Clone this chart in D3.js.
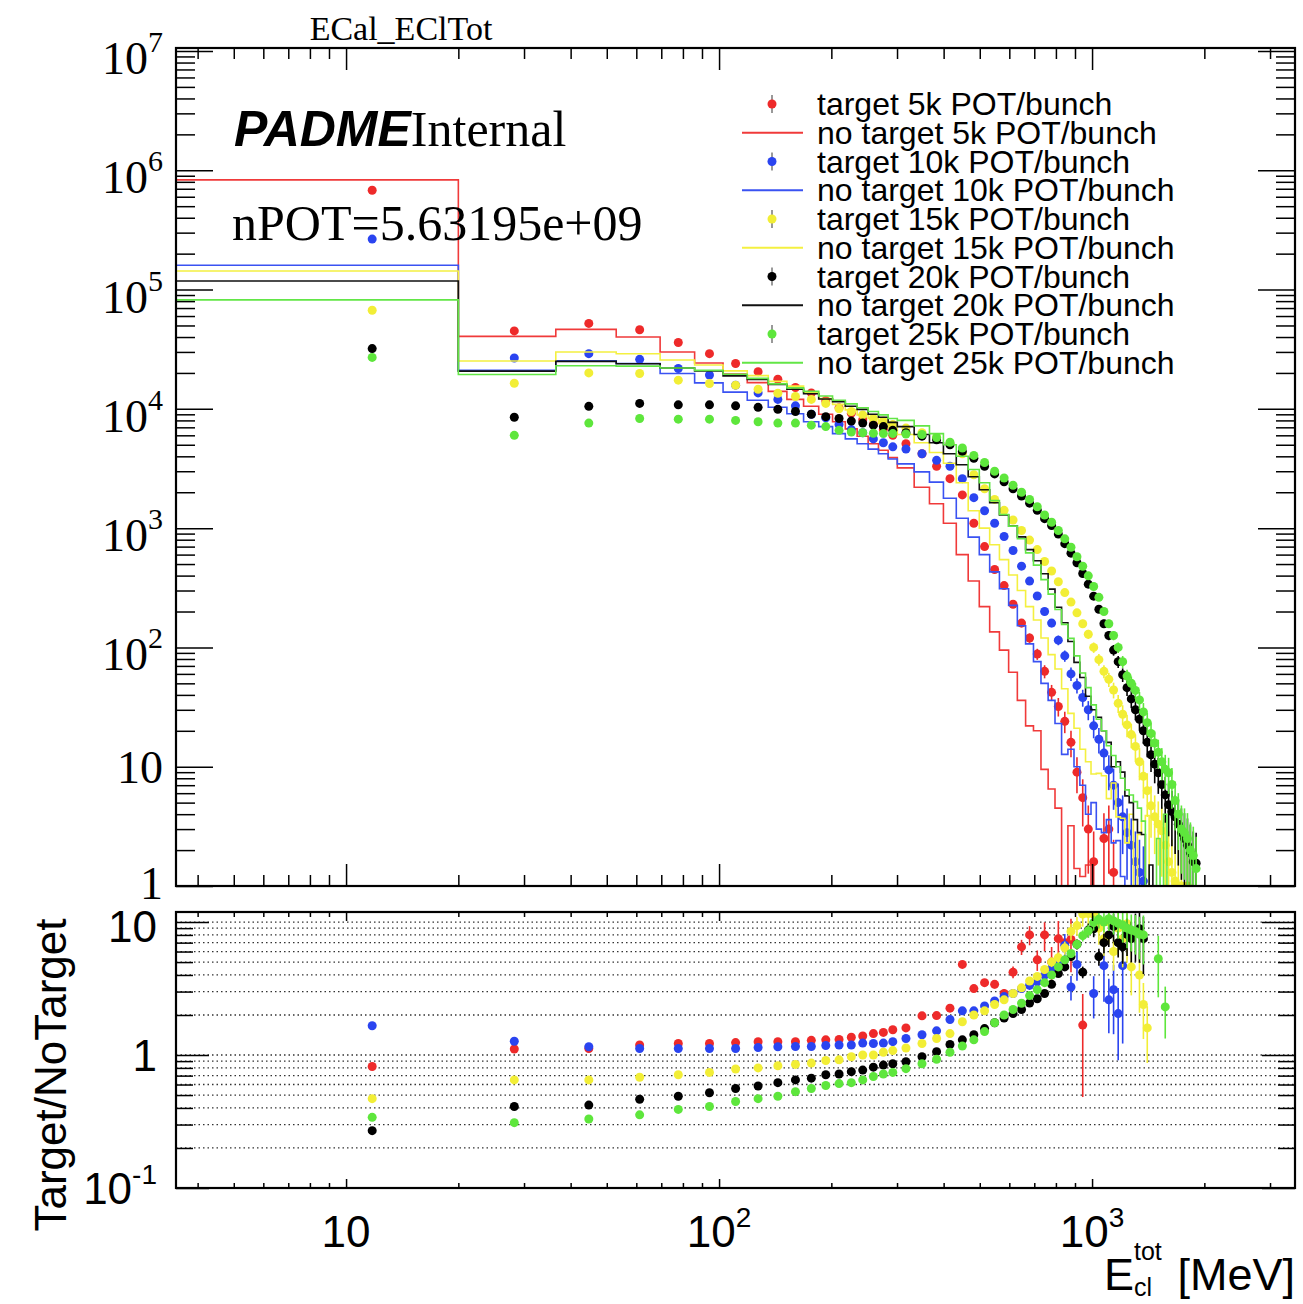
<!DOCTYPE html>
<html>
<head>
<meta charset="utf-8">
<script src="https://cdn.jsdelivr.net/npm/d3@7"></script>
<style>
  body { margin: 0; background: #fff; }
  svg { display: block; }
</style>
</head>
<body>
<svg width="1303" height="1304"></svg>
<script>
// bin edges of E_cl^tot (MeV); fine bins at low energy, 33 MeV above 300 MeV
var binEdges = [3.5, 20, 36.5, 53, 69.5, 86, 102.5, 119, 135.5, 152,
  168.5, 185, 201.5, 218, 234.5, 251, 267.5, 284, 300.5, 333.5,
  366.5, 399.5, 432.5, 465.5, 498.5, 531.5, 564.5, 597.5, 630.5, 663.5,
  696.5, 729.5, 762.5, 795.5, 828.5, 861.5, 894.5, 927.5, 960.5, 993.5,
  1026.5, 1059.5, 1092.5, 1125.5, 1158.5, 1191.5, 1224.5, 1257.5, 1290.5, 1323.5,
  1356.5, 1389.5, 1422.5, 1455.5, 1488.5, 1521.5, 1554.5, 1587.5, 1620.5, 1653.5,
  1686.5, 1719.5, 1752.5, 1785.5, 1818.5, 1851.5, 1884.5, 1917.5];

// 5k POT/bunch
var tgt5k = [6.8e5, 4.5e4, 5.2e4, 4.6e4, 3.6e4, 2.9e4, 2.4e4, 2.05e4, 1.77e4, 1.51e4,
  1.36e4, 1.17e4, 1.02e4, 9200, 8100, 7400, 6700, 6000, 5100, 4200,
  3300, 2600, 1900, 1100, 700, 450, 330, 230, 160, 120,
  88, 63, 42, 32, 24, 16, 9, 5.5, 3.0, 1.6,
  null, 2.5, 3.0, 1.3, null, null, null, null, null, null,
  null, null, null, null, null, null, null, null, null, null,
  null, null, null, null, null, null, null];
var noTgt5k = [8.3e5, 4.05e4, 4.64e4, 4.0e4, 3.0e4, 2.42e4, 1.96e4, 1.66e4, 1.4e4, 1.2e4,
  1.05e4, 9000, 7800, 6800, 5900, 5100, 4500, 3900, 3200, 2200,
  1600, 1100, 600, 360, 220, 135, 95, 62, 36, 22,
  20, 9.5, 6.5, 4.5, 0, 3.2, 1.4, 1.2, 1.5, 0,
  0, 0, 0, 0, 0, 0, 0, 0, 0, 0,
  0, 0, 0, 0, 0, 0, 0, 0, 0, 0,
  0, 0, 0, 0, 0, 0, 0];
var rat5k = [0.82, 1.11, 1.12, 1.19, 1.22, 1.22, 1.24, 1.26, 1.26, 1.26,
  1.29, 1.30, 1.31, 1.36, 1.39, 1.45, 1.48, 1.55, 1.6, 1.97,
  1.98, 2.25, 4.8, 3.16, 3.5, 3.4, 2.9, 4.2, 6.5, 8.0,
  5.2, 8.0, 5.0, 7.5, 7.0, 7.4, null, 1.68, null, null,
  null, null, null, null, null, null, null, null, null, null,
  null, null, null, null, null, null, null, null, null, null,
  null, null, null, null, null, null, null];

// 10k POT/bunch
var tgt10k = [2.65e5, 2.67e4, 2.9e4, 2.6e4, 2.18e4, 1.92e4, 1.58e4, 1.36e4, 1.2e4, 1.06e4,
  9000, 8400, 7400, 6700, 6300, 5600, 5200, 4800, 4600, 4200,
  3700, 3300, 2600, 1800, 1400, 1100, 850, 650, 480, 360,
  270, 200, 160, 115, 85, 60, 48, 38, 30, 22,
  17, 13, 9.4, 7, 5, 3.8, 2.8, 2.2, 1.6, 1.3,
  1.1, null, null, null, null, null, null, null, null, null,
  null, null, null, null, null, null, null];
var noTgt10k = [1.6e5, 2.1e4, 2.53e4, 2.4e4, 1.98e4, 1.65e4, 1.38e4, 1.18e4, 1.03e4, 9100,
  7800, 7100, 6200, 5600, 5100, 4600, 4200, 3800, 3460, 2960,
  2430, 1780, 1210, 840, 600, 430, 310, 225, 152, 107,
  76, 50, 36, 23, 12.7, 14, 10, 7, 4, 5,
  3, 2.8, 3.6, 2.3, 2.4, 1.2, 0, 0, 0, 0,
  0, 0, 0, 0, 0, 0, 0, 0, 0, 0,
  0, 0, 0, 0, 0, 0, 0];
var rat10k = [1.66, 1.27, 1.155, 1.12, 1.12, 1.12, 1.12, 1.14, 1.155, 1.16,
  1.16, 1.18, 1.19, 1.19, 1.23, 1.22, 1.23, 1.26, 1.33, 1.42,
  1.52, 1.85, 2.15, 2.15, 2.34, 2.55, 2.75, 2.9, 3.16, 3.35,
  3.55, 4.0, 4.5, 5.0, 6.7, 3.25, 4.8, null, null, 2.9,
  null, 4.7, 2.6, 3.1, 2.05, 4.7, null, null, null, null,
  null, null, null, null, null, null, null, null, null, null,
  null, null, null, null, null, null, null];

// 15k POT/bunch
var tgt15k = [6.7e4, 1.64e4, 2.0e4, 1.98e4, 1.74e4, 1.63e4, 1.58e4, 1.46e4, 1.35e4, 1.27e4,
  1.2e4, 1.11e4, 1.0e4, 9500, 8900, 8300, 7900, 7400, 6900, 6300,
  5750, 5100, 4200, 2800, 2140, 1740, 1410, 1170, 955, 794,
  661, 525, 437, 355, 288, 240, 195, 158, 129, 100,
  79, 63, 54, 44, 34, 27.5, 22.4, 18.6, 14.8, 11,
  8.3, 6.3, 4.7, 3.8, 3.3, 2.9, 2.2, 1.6, 1.3, 1.1,
  1.0, 1.0, null, 1.0, null, null, null];
var noTgt15k = [1.43e5, 2.52e4, 3.0e4, 2.9e4, 2.57e4, 2.33e4, 2.08e4, 1.9e4, 1.7e4, 1.55e4,
  1.38e4, 1.22e4, 1.09e4, 9800, 8900, 8300, 7500, 6900, 6100, 5200,
  4300, 3500, 2400, 1400, 1000, 725, 545, 405, 300, 220,
  170, 120, 87, 66, 45, 28, 21, 14, 11, 8.7,
  8.8, 8.4, 5.4, 7.3, 3.8, 3.7, 2.3, 4, 0, 2.7,
  3.5, 3.9, 0, 0, 0, 0, 0, 0, 0, 0,
  0, 0, 0, 0, 0, 0, 0];
var rat15k = [0.47, 0.65, 0.65, 0.68, 0.71, 0.74, 0.785, 0.80, 0.83, 0.85,
  0.87, 0.91, 0.92, 0.97, 1.0, 1.0, 1.05, 1.08, 1.13, 1.22,
  1.33, 1.45, 1.78, 2.0, 2.15, 2.4, 2.6, 2.9, 3.2, 3.6,
  3.9, 4.4, 5.0, 5.4, 6.4, 8.5, 9.4, 11.5, 11.6, 11.5,
  9.0, 7.5, 10.0, 6.0, 9.0, 7.5, 9.7, 4.6, null, 4.0,
  2.4, 1.6, null, null, null, null, null, null, null, null,
  null, null, null, null, null, null, null];

// 20k POT/bunch
var tgt20k = [3.2e4, 8500, 1.05e4, 1.11e4, 1.08e4, 1.08e4, 1.06e4, 1.03e4, 9900, 9500,
  9000, 8600, 8300, 7900, 7600, 7300, 7100, 6600, 6300, 5900,
  5500, 5000, 4400, 3850, 3300, 2850, 2450, 2140, 1860, 1620,
  1410, 1200, 1050, 891, 741, 617, 513, 417, 339, 269,
  209, 158, 126, 95, 76, 59, 46, 37, 30, 25,
  20, 16, 12.6, 10.5, 8.9, 7.1, 5.8, 4.8, 4.2, 3.8,
  3.3, 2.8, 2.5, 2.2, 1.9, 1.6, 1.55];
var noTgt20k = [1.18e5, 2.07e4, 2.5e4, 2.39e4, 2.2e4, 2.08e4, 1.89e4, 1.76e4, 1.6e4, 1.46e4,
  1.34e4, 1.21e4, 1.15e4, 1.05e4, 9900, 9000, 8500, 7700, 7100, 6100,
  5200, 4200, 3400, 2700, 2100, 1630, 1290, 1040, 845, 660,
  533, 415, 308, 217, 161, 112, 75, 56, 39, 30,
  26, 20, 16, 10, 11, 9, 5.7, 5, 3.6, 2.8,
  2.7, 0, 1.5, 0, 0, 0, 0, 0, 0, 0,
  0, 0, 0, 0, 0, 0, 0];
var rat20k = [0.27, 0.41, 0.42, 0.465, 0.49, 0.52, 0.56, 0.585, 0.62, 0.65,
  0.67, 0.71, 0.72, 0.75, 0.77, 0.81, 0.84, 0.86, 0.89, 0.97,
  1.06, 1.2, 1.3, 1.42, 1.58, 1.75, 1.9, 2.05, 2.2, 2.46,
  2.65, 2.9, 3.4, 4.1, 4.6, 5.5, 6.8, 4.2, 8.7, 8.9,
  5.5, 7.0, 8.0, 9.3, 7.0, 6.5, 8.1, 7.5, 8.3, 8.9,
  7.5, null, null, null, null, null, null, null, null, null,
  null, null, null, null, null, null, null];

// 25k POT/bunch
var tgt25k = [2.7e4, 6000, 7600, 8300, 8200, 8200, 8000, 7800, 7600, 7600,
  7300, 7100, 6600, 6400, 6300, 6250, 6200, 6200, 6150, 6100,
  5750, 5250, 4700, 4070, 3550, 3000, 2630, 2290, 2000, 1740,
  1510, 1290, 1120, 955, 813, 692, 575, 479, 398, 324,
  263, 200, 158, 126, 100, 76, 57.5, 50, 43.6, 36.3,
  28.8, 23.4, 19, 15.8, 13.2, 11, 9.5, 8.9, 7.1, 5.2,
  4.0, 3.0, 2.8, 2.5, 2.0, 1.8, 1.4];
var noTgt25k = [8.2e4, 1.94e4, 2.3e4, 2.28e4, 2.2e4, 2.1e4, 1.95e4, 1.8e4, 1.62e4, 1.5e4,
  1.4e4, 1.28e4, 1.18e4, 1.1e4, 1.02e4, 9500, 8900, 8300, 8000, 7200,
  6200, 5000, 4000, 3100, 2400, 1700, 1300, 1040, 815, 620,
  490, 370, 280, 208, 156, 119, 85, 61, 46, 33,
  25, 20, 15, 12.4, 10, 8, 6.4, 5.8, 5.1, 4.5,
  3.5, 0, 0, 0, 2.5, 0, 4, 0, 0, 0,
  0, 0, 0, 0, 0, 0, 0];
var rat25k = [0.34, 0.31, 0.33, 0.355, 0.39, 0.41, 0.447, 0.47, 0.49, 0.53,
  0.56, 0.59, 0.61, 0.62, 0.65, 0.69, 0.72, 0.74, 0.79, 0.86,
  0.93, 1.05, 1.17, 1.3, 1.5, 1.75, 2.0, 2.2, 2.45, 2.8,
  3.1, 3.5, 4.0, 4.6, 5.2, 5.8, 6.8, 7.9, 8.6, 9.9,
  10.5, 10.0, 10.6, 10.2, 9.8, 9.5, 9.0, 8.7, 8.5, 8.1,
  8.0, null, null, null, 5.3, null, 2.3, null, null, null,
  null, null, null, null, null, null, null];

var intensities = ["5k", "10k", "15k", "20k", "25k"];
var colors = ["#ee2a2a", "#2a44f0", "#f2ee36", "#000000", "#5ee63c"];
var lineColors = ["#f03a3a", "#3a52f2", "#f4f040", "#111111", "#62e646"];

var series = [
  {tgt: tgt5k, noTgt: noTgt5k, ratio: rat5k},
  {tgt: tgt10k, noTgt: noTgt10k, ratio: rat10k},
  {tgt: tgt15k, noTgt: noTgt15k, ratio: rat15k},
  {tgt: tgt20k, noTgt: noTgt20k, ratio: rat20k},
  {tgt: tgt25k, noTgt: noTgt25k, ratio: rat25k}
];

var serif = "'Liberation Serif', 'Times New Roman', serif",
    sans = "'Liberation Sans', Arial, Helvetica, sans-serif";

var svg = d3.select("svg"),
    xL = 176, xR = 1295,
    topY0 = 48, topY1 = 886,
    ratY0 = 912, ratY1 = 1188;

var x = d3.scaleLog().domain([3.5, 3500]).range([xL, xR]),
    y = d3.scaleLog().domain([1, Math.pow(10, 7.025)]).range([topY1, topY0]),
    yr = d3.scaleLog().domain([0.1, 11.9]).range([ratY1, ratY0]);

var defs = svg.append("defs");
defs.append("clipPath").attr("id", "clipTop").append("rect")
    .attr("x", xL).attr("y", topY0).attr("width", xR - xL).attr("height", topY1 - topY0);
defs.append("clipPath").attr("id", "clipRat").append("rect")
    .attr("x", xL).attr("y", ratY0).attr("width", xR - xL).attr("height", ratY1 - ratY0);

var centers = binEdges.slice(0, -1).map((e, i) => (e + binEdges[i + 1]) / 2);

function yTop(v) { return (v == null || v < 1) ? topY1 : y(v); }

// ---- top panel: histograms and points
var gTop = svg.append("g").attr("clip-path", "url(#clipTop)");

series.forEach(function(s, k) {
  // no-target histogram as steps
  var pts = [[x(binEdges[0]), topY1]];
  s.noTgt.forEach(function(v, i) {
    pts.push([x(binEdges[i]), yTop(v)]);
    pts.push([x(binEdges[i + 1]), yTop(v)]);
  });
  pts.push([x(binEdges[binEdges.length - 1]), topY1]);
  pts.push([x(3500), topY1]);
  gTop.append("path")
    .attr("d", d3.line()(pts))
    .attr("fill", "none")
    .attr("stroke", lineColors[k])
    .attr("stroke-width", 1.6);

  // target points with sqrt(N) bars
  var data = s.tgt.map((v, i) => ({c: centers[i], v: v})).filter(d => d.v != null && d.v >= 1);
  gTop.selectAll(".err" + k).data(data).join("line")
    .attr("x1", d => x(d.c)).attr("x2", d => x(d.c))
    .attr("y1", d => yTop(d.v + Math.sqrt(d.v)))
    .attr("y2", d => yTop(d.v - Math.sqrt(d.v)))
    .attr("stroke", colors[k]).attr("stroke-width", 1.6);
  gTop.selectAll(".pt" + k).data(data).join("circle")
    .attr("cx", d => x(d.c)).attr("cy", d => y(d.v)).attr("r", 4.5)
    .attr("fill", colors[k]);
});

// ---- ratio panel grid
var gridVals = yr.ticks().filter(v => v > 0.11 && v < 11);
svg.append("g").selectAll("line").data(gridVals).join("line")
  .attr("x1", xL).attr("x2", xR)
  .attr("y1", d => yr(d)).attr("y2", d => yr(d))
  .attr("stroke", "#333").attr("stroke-width", 1.3)
  .attr("stroke-dasharray", "1.5,3");

var gRat = svg.append("g").attr("clip-path", "url(#clipRat)");
series.forEach(function(s, k) {
  var data = s.ratio.map((r, i) => ({c: centers[i], r: r, p: s.tgt[i], h: s.noTgt[i]}))
    .filter(d => d.r != null);
  gRat.selectAll(".rerr" + k).data(data.filter(d => d.p > 0 && d.h > 0)).join("line")
    .attr("x1", d => x(d.c)).attr("x2", d => x(d.c))
    .attr("y1", function(d) {
      var rel = Math.sqrt(1 / (2 * d.p) + 1 / (2 * d.h));
      return yr(d.r * (1 + rel));
    })
    .attr("y2", function(d) {
      var rel = Math.sqrt(1 / (2 * d.p) + 1 / (2 * d.h));
      var lo = d.r * (1 - rel);
      return lo > 0.1 ? yr(lo) : ratY1;
    })
    .attr("stroke", colors[k]).attr("stroke-width", 1.6);
  gRat.selectAll(".rpt" + k).data(data).join("circle")
    .attr("cx", d => x(d.c)).attr("cy", d => yr(d.r)).attr("r", 4.5)
    .attr("fill", colors[k]);
});

// ---- ticks
function ticks(axisFn, scale, vals, len, tx, ty) {
  var a = svg.append("g").attr("transform", "translate(" + tx + "," + ty + ")")
    .call(axisFn(scale).tickValues(vals).tickSize(-len).tickFormat(""));
  a.select(".domain").remove();
  a.selectAll("line").attr("stroke", "#000").attr("stroke-width", 1.5);
}
var isMajor = v => Math.abs(Math.log10(v) - Math.round(Math.log10(v))) < 1e-6;
var xt = x.ticks(), xMaj = xt.filter(isMajor), xMin = xt.filter(v => !isMajor(v));
var yt = y.ticks().filter(v => v <= 1e7), yMaj = yt.filter(isMajor), yMin = yt.filter(v => !isMajor(v));
var rt = yr.ticks(), rMaj = rt.filter(isMajor), rMin = rt.filter(v => !isMajor(v));

ticks(d3.axisBottom, x, xMaj, 22, 0, topY1);
ticks(d3.axisBottom, x, xMin, 11, 0, topY1);
ticks(d3.axisTop, x, xMaj, 22, 0, topY0);
ticks(d3.axisTop, x, xMin, 11, 0, topY0);
ticks(d3.axisLeft, y, yMaj, 37, xL, 0);
ticks(d3.axisLeft, y, yMin, 19, xL, 0);
ticks(d3.axisRight, y, yMaj, 37, xR, 0);
ticks(d3.axisRight, y, yMin, 19, xR, 0);

ticks(d3.axisBottom, x, xMaj, 9, 0, ratY1);
ticks(d3.axisBottom, x, xMin, 5, 0, ratY1);
ticks(d3.axisTop, x, xMaj, 9, 0, ratY0);
ticks(d3.axisTop, x, xMin, 5, 0, ratY0);
ticks(d3.axisLeft, yr, rMaj, 33, xL, 0);
ticks(d3.axisLeft, yr, rMin, 17, xL, 0);
ticks(d3.axisRight, yr, rMaj, 33, xR, 0);
ticks(d3.axisRight, yr, rMin, 17, xR, 0);

// frames
[[topY0, topY1], [ratY0, ratY1]].forEach(function(f) {
  svg.append("rect").attr("x", xL).attr("y", f[0])
    .attr("width", xR - xL).attr("height", f[1] - f[0])
    .attr("fill", "none").attr("stroke", "#000").attr("stroke-width", 2.2);
});

// ---- tick labels
function powText(sel, exp, supSize, dy) {
  sel.append("tspan").text("10");
  sel.append("tspan").attr("font-size", supSize).attr("dy", dy).text(exp);
}
var topExps = [0, 1, 2, 3, 4, 5, 6, 7];
topExps.forEach(function(e) {
  var off = e >= 2 ? 23 : (e === 0 ? 13 : 16);
  var t = svg.append("text")
    .attr("x", 163).attr("y", y(Math.pow(10, e)) + off)
    .attr("text-anchor", "end")
    .style("font-family", serif).style("font-size", "46px");
  if (e === 0) t.text("1");
  else if (e === 1) t.text("10");
  else powText(t, e, "30px", -22);
});

[[10, "10", 20], [1, "1", 16], [0.1, "-1", 16]].forEach(function(d) {
  var t = svg.append("text")
    .attr("x", 157).attr("y", yr(d[0]) + d[2])
    .attr("text-anchor", "end")
    .style("font-family", sans).style("font-size", "44px");
  if (d[0] === 0.1) powText(t, d[1], "28px", -20);
  else t.text(d[1]);
});

[[10, null], [100, "2"], [1000, "3"]].forEach(function(d) {
  var t = svg.append("text")
    .attr("x", x(d[0])).attr("y", 1247)
    .attr("text-anchor", "middle")
    .style("font-family", sans).style("font-size", "44px");
  if (d[1] == null) t.text("10");
  else powText(t, d[1], "28px", -20);
});

// ---- axis titles
svg.append("text")
  .attr("transform", "translate(66,1075) rotate(-90)")
  .attr("text-anchor", "middle")
  .style("font-family", sans).style("font-size", "44px")
  .text("Target/NoTarget");

svg.append("text").attr("x", 1295).attr("y", 1290).attr("text-anchor", "end")
  .style("font-family", sans).style("font-size", "45px").text("[MeV]");
svg.append("text").attr("x", 1104).attr("y", 1290)
  .style("font-family", sans).style("font-size", "45px").text("E");
svg.append("text").attr("x", 1134).attr("y", 1260)
  .style("font-family", sans).style("font-size", "25px").text("tot");
svg.append("text").attr("x", 1134).attr("y", 1296)
  .style("font-family", sans).style("font-size", "25px").text("cl");

// ---- title and labels
svg.append("text").attr("x", 401).attr("y", 40).attr("text-anchor", "middle")
  .style("font-family", serif).style("font-size", "34px").text("ECal_EClTot");

var lab = svg.append("text").attr("x", 234).attr("y", 146);
lab.append("tspan").style("font-family", sans).style("font-weight", "bold")
  .style("font-style", "italic").style("font-size", "50px").text("PADME");
lab.append("tspan").style("font-family", serif).style("font-size", "50px").text("Internal");

svg.append("text").attr("x", 232).attr("y", 240)
  .style("font-family", serif).style("font-size", "50px").text("nPOT=5.63195e+09");

// ---- legend (rows are packed tightly, as in the original)
var legendLabels = [];
intensities.forEach(function(n) {
  legendLabels.push("target " + n + " POT/bunch");
  legendLabels.push("no target " + n + " POT/bunch");
});
var legend = svg.append("g");
legendLabels.forEach(function(label, i) {
  var k = Math.floor(i / 2), cy = 104 + i * 28.75;
  if (i % 2 === 0) {
    legend.append("line").attr("x1", 772).attr("x2", 772)
      .attr("y1", cy - 9).attr("y2", cy + 9)
      .attr("stroke", "#777").attr("stroke-width", 1.5);
    legend.append("circle").attr("cx", 772).attr("cy", cy).attr("r", 4.5)
      .attr("fill", colors[k]);
  } else {
    legend.append("line").attr("x1", 742).attr("x2", 803)
      .attr("y1", cy).attr("y2", cy)
      .attr("stroke", lineColors[k]).attr("stroke-width", 2);
  }
  legend.append("text").attr("x", 817).attr("y", cy + 11)
    .style("font-family", sans).style("font-size", "32px").text(label);
});
</script>
</body>
</html>
